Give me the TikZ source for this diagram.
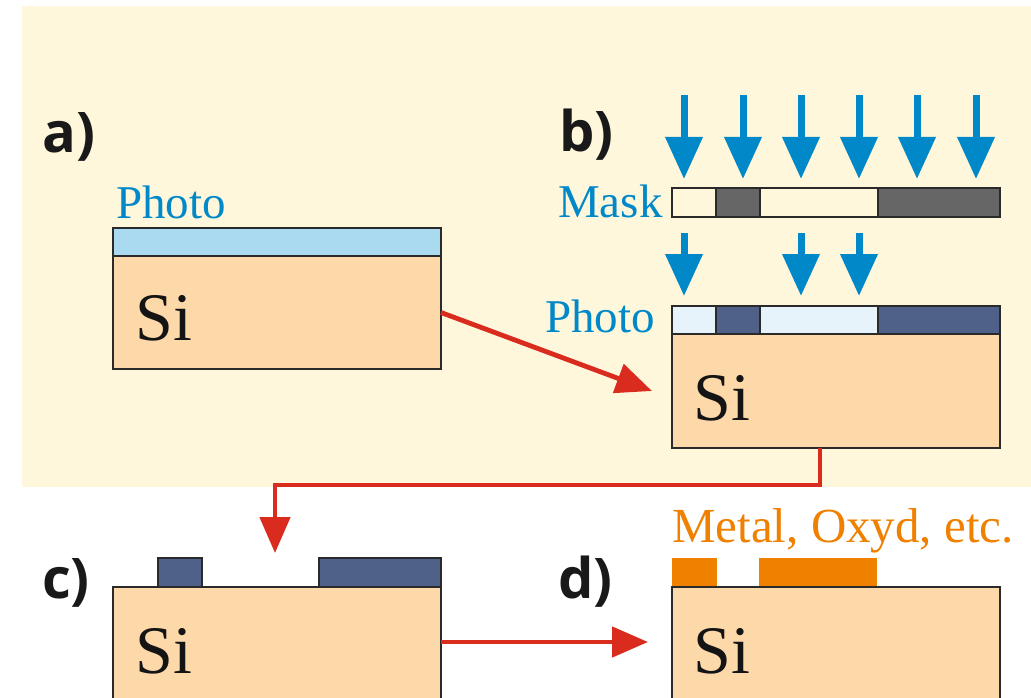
\documentclass[tikz,border=0pt]{standalone}
\usepackage{fontspec}
\setmainfont{Liberation Serif}
\newfontfamily\labfont{Open Sans}
\usetikzlibrary{arrows.meta}
\definecolor{bgyellow}{HTML}{FEF7DC}
\definecolor{sicol}{HTML}{FDD8A8}
\definecolor{photocol}{HTML}{AADAF0}
\definecolor{expcol}{HTML}{E6F3FA}
\definecolor{resist}{HTML}{4F6089}
\definecolor{maskdark}{HTML}{666666}
\definecolor{lightblue}{HTML}{0088C8}
\definecolor{arrred}{HTML}{D92B1E}
\definecolor{metal}{HTML}{F08000}
\definecolor{edge}{HTML}{2A2A2A}
\begin{document}
\begin{tikzpicture}[x=1pt,y=-1pt,
  layer/.style={draw=edge,line width=2pt},
  sibox/.style={layer,fill=sicol,inner sep=0pt,outer sep=0pt,anchor=north west,minimum width=328pt},
  sitext/.style={anchor=base west,inner sep=0pt,text=black!92,font=\fontsize{68}{70}\selectfont},
  bluetext/.style={anchor=base west,inner sep=0pt,text=lightblue,font=\fontsize{47}{50}\selectfont},
  steplabel/.style={anchor=base west,inner sep=0pt,text=black!90,font=\labfont\bfseries\fontsize{56}{60}\selectfont},
  lightarrow/.style={draw=lightblue,line width=7pt,-{Triangle[width=36pt,length=42pt]},lightblue},
  redarrow/.style={draw=arrred,line width=4.8pt,-{Triangle[width=30pt,length=36pt]},arrred}
]
\useasboundingbox (0,0) rectangle (1031,698);
\clip (0,0) rectangle (1031,698);
\fill[white] (0,0) rectangle (1031,698);
\fill[bgyellow] (22,6) rectangle (1031,487);

% labels
\node[steplabel] (la) at (42,153) {a)};
\node[steplabel] (lb) at (559,152) {b)};
\node[steplabel] (lc) at (42,598) {c)};
\node[steplabel] (ld) at (558,598) {d)};

% panel a
\draw[layer,fill=photocol] (113,228) rectangle (441,256);
\node[sibox,minimum height=113pt] (sia) at (113,256) {};
\node[sitext] (sita) at (135,340) {Si};
\node[bluetext] (pha) at (116,218) {Photo};

% panel b
\foreach \x in {684,743,801,859,917,976}
  \draw[lightarrow] (\x,95) -- (\x,179);
\draw[layer,fill=bgyellow] (672,188) rectangle (716,217);
\draw[layer,fill=maskdark] (716,188) rectangle (760,217);
\draw[layer,fill=bgyellow] (760,188) rectangle (878,217);
\draw[layer,fill=maskdark] (878,188) rectangle (1000,217);
\node[bluetext] (mask) at (558,217) {Mask};
\foreach \x in {684,801,859}
  \draw[lightarrow] (\x,233) -- (\x,296);
\draw[layer,fill=expcol] (672,306) rectangle (716,334);
\draw[layer,fill=resist] (716,306) rectangle (760,334);
\draw[layer,fill=expcol] (760,306) rectangle (878,334);
\draw[layer,fill=resist] (878,306) rectangle (1000,334);
\node[bluetext] (phb) at (545,332) {Photo};
\node[sibox,minimum height=114pt] (sib) at (672,334) {};
\node[sitext] (sitb) at (693,420) {Si};

% panel c
\draw[layer,fill=resist] (158,558) rectangle (202,587);
\draw[layer,fill=resist] (319,558) rectangle (441,587);
\node[sibox,minimum height=140pt] (sic) at (113,587) {};
\node[sitext] (sitc) at (135,673) {Si};

% panel d
\fill[metal] (672,558) rectangle (717,587);
\fill[metal] (759,558) rectangle (877,587);
\node[sibox,minimum height=140pt] (sid) at (672,587) {};
\node[sitext] (sitd) at (693,673) {Si};
\node[bluetext,text=metal,font=\fontsize{49}{52}\selectfont] (met) at (672,542) {Metal, Oxyd, etc.};

% connectors
\draw[redarrow] (sia.east) -- ([xshift=-20pt]sib.west);
\coordinate (k1) at (820,485);
\coordinate (k2) at (275,485);
\coordinate (cin) at (275,553);
\draw[redarrow] (sib.south -| k1) -- (k1) -- (k2) -- (cin);
\coordinate (cd) at (0,642);
\draw[redarrow] (sic.east |- cd) -- ([xshift=-24pt]sid.west |- cd);
\end{tikzpicture}
\end{document}
